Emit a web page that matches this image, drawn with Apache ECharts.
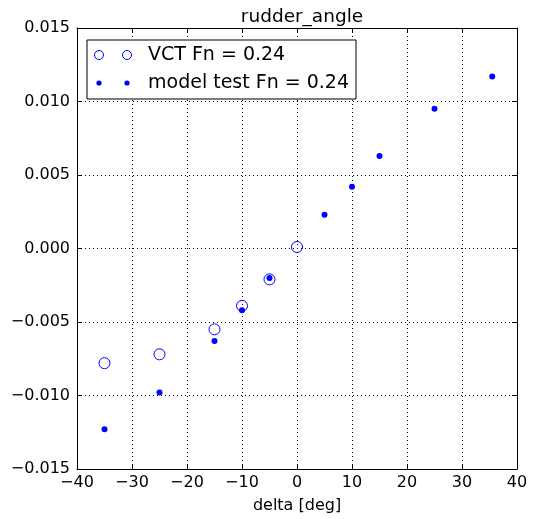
<!DOCTYPE html>
<html>
<head>
<meta charset="utf-8">
<script src="https://cdn.jsdelivr.net/npm/echarts@6/dist/echarts.min.js"></script>
<style>html,body{margin:0;padding:0;background:#fff}#c{width:536px;height:519px}</style>
</head>
<body>
<div id="c"></div>
<script>
const vctDelta = [-35, -25, -15, -10, -5, 0];
const vctValue = [-0.0078, -0.0072, -0.0055, -0.0039, -0.0021, 0.0001];
const modelDelta = [-35, -25, -15, -10, -5, 5, 10, 15, 25, 35.5];
const modelValue = [-0.0123, -0.0098, -0.0063, -0.0042, -0.0020, 0.0023, 0.0042, 0.0063, 0.0095, 0.0117];
const xTicks = [-40, -30, -20, -10, 0, 10, 20, 30, 40];
const yTicks = [-0.015, -0.010, -0.005, 0.000, 0.005, 0.010, 0.015];
const seriesNames = ['VCT Fn = 0.24', 'model test Fn = 0.24'];

const FONT = 'DejaVu Sans';
const chart = echarts.init(document.getElementById('c'), null, {renderer: 'canvas'});
const minus = s => s.replace('-', '\u2212');
const G = {left: 77, right: 19, top: 28, bottom: 50};
const axLine = {show: true, onZero: false, lineStyle: {color: '#000', width: 1}};
const tick = {show: true, inside: true, length: 5, lineStyle: {color: '#000', width: 1}};
const split = {show: true, lineStyle: {color: '#000', width: 1, type: [1, 3]}};

const option = {
  animation: false,
  backgroundColor: '#fff',
  title: {
    text: 'rudder_angle', left: 297, top: 3, textAlign: 'center',
    textStyle: {fontFamily: FONT, fontSize: 18.5, fontWeight: 'normal', color: '#000'}
  },
  grid: G,
  xAxis: [{
    type: 'value', min: xTicks[0], max: xTicks[xTicks.length - 1], interval: 10,
    name: 'delta [deg]', nameLocation: 'middle', nameGap: 29,
    nameTextStyle: {fontFamily: FONT, fontSize: 16, color: '#000'},
    axisLine: axLine, axisTick: tick, splitLine: split,
    axisLabel: {fontFamily: FONT, fontSize: 16, color: '#000', margin: 6, formatter: v => minus(String(v))}
  }, {
    type: 'value', position: 'top', min: xTicks[0], max: xTicks[xTicks.length - 1], interval: 10,
    axisLine: axLine, axisTick: tick, splitLine: {show: false}, axisLabel: {show: false}
  }],
  yAxis: [{
    type: 'value', min: yTicks[0], max: yTicks[yTicks.length - 1], interval: 0.005,
    axisLine: axLine, axisTick: tick, splitLine: split,
    axisLabel: {fontFamily: FONT, fontSize: 16, color: '#000', margin: 7, formatter: v => minus(v.toFixed(3))}
  }, {
    type: 'value', position: 'right', min: yTicks[0], max: yTicks[yTicks.length - 1], interval: 0.005,
    axisLine: axLine, axisTick: tick, splitLine: {show: false}, axisLabel: {show: false}
  }],
  series: [{
    name: seriesNames[0], type: 'scatter', symbol: 'circle', symbolSize: 11,
    data: vctDelta.map((d, i) => [d, vctValue[i]]),
    itemStyle: {color: 'rgba(0,0,0,0)', borderColor: '#0000ff', borderWidth: 1, opacity: 1},
    z: 3
  }, {
    name: seriesNames[1], type: 'scatter', symbol: 'circle', symbolSize: 6,
    data: modelDelta.map((d, i) => [d, modelValue[i]]),
    itemStyle: {color: '#0000ff', opacity: 1},
    z: 4
  }],
  graphic: [
    {type: 'rect', shape: {x: 87, y: 40, width: 269, height: 59}, style: {fill: '#fff', stroke: '#000', lineWidth: 1}, z: 100},
    {type: 'circle', shape: {cx: 99, cy: 55, r: 4.5}, style: {fill: 'none', stroke: '#0000ff', lineWidth: 1}, z: 101},
    {type: 'circle', shape: {cx: 127, cy: 55, r: 4.5}, style: {fill: 'none', stroke: '#0000ff', lineWidth: 1}, z: 101},
    {type: 'circle', shape: {cx: 99, cy: 83, r: 2.6}, style: {fill: '#0000ff'}, z: 101},
    {type: 'circle', shape: {cx: 127, cy: 83, r: 2.6}, style: {fill: '#0000ff'}, z: 101},
    {type: 'text', x: 148, y: 55, style: {text: seriesNames[0], fontFamily: FONT, fontSize: 19, fill: '#000', verticalAlign: 'middle'}, z: 101},
    {type: 'text', x: 148, y: 83, style: {text: seriesNames[1], fontFamily: FONT, fontSize: 19, fill: '#000', verticalAlign: 'middle'}, z: 101}
  ]
};
chart.setOption(option);
</script>
</body>
</html>
